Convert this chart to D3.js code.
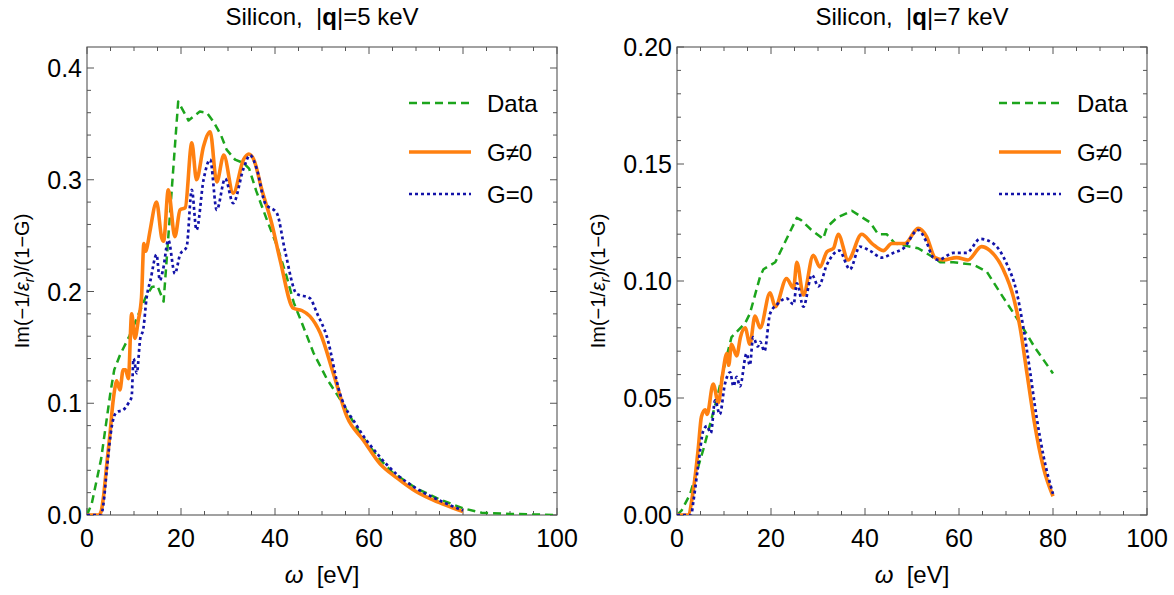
<!DOCTYPE html>
<meta charset="utf-8">
<script src="https://d3js.org/d3.v7.min.js"></script>
<style>
  body { margin: 0; background: #fff; }
  text { font-family: "Liberation Sans", Arial, sans-serif; fill: #000; }
</style>
<div class="canvas"></div>
<script>
// ---- data (omega in eV, loss function value) ----
// panel |q| = 5 keV
const wData5 = [0, 1, 2, 3, 4, 5, 5.8, 7, 9, 11, 12.5, 13.8, 15, 16.3, 19.4, 21.6, 24, 25.5, 26.9, 28.5, 29.7, 31.5, 33.3, 34.5, 36, 38.2, 40.5, 42.5, 44, 45.7, 48.2, 51, 53.8, 56, 58.1, 60, 62.3, 65, 70, 75, 80, 84, 90, 100]
const vData5 = [0, 0.01, 0.03, 0.05, 0.08, 0.11, 0.13, 0.143, 0.16, 0.18, 0.195, 0.204, 0.205, 0.191, 0.370, 0.353, 0.361, 0.36, 0.352, 0.34, 0.327, 0.318, 0.315, 0.31, 0.29, 0.265, 0.24, 0.213, 0.19, 0.172, 0.145, 0.122, 0.104, 0.088, 0.073, 0.062, 0.05, 0.038, 0.024, 0.014, 0.006, 0.002, 0.001, 0]

const wGne5 = [0, 2.5, 3, 3.5, 4.2, 4.9, 5.5, 6.0, 6.3, 7.0, 7.7, 8.2, 8.8, 9.5, 10.2, 10.9, 11.6, 12.1, 12.5, 12.8, 13.4, 14.8, 15.9, 16.3, 17.3, 18.7, 19.8, 20.9, 22.3, 23.3, 24.8, 26.2, 27.6, 29.1, 31.1, 33.3, 34.4, 35.5, 37.2, 39.3, 41.1, 43.9, 45.7, 47.4, 49.6, 52.4, 55.3, 58.8, 62.3, 66, 70, 75, 80]
const vGne5 = [0, 0, 0.003, 0.016, 0.045, 0.073, 0.1, 0.115, 0.12, 0.112, 0.13, 0.13, 0.122, 0.18, 0.158, 0.174, 0.195, 0.243, 0.236, 0.24, 0.254, 0.280, 0.248, 0.245, 0.291, 0.249, 0.273, 0.275, 0.333, 0.300, 0.330, 0.343, 0.298, 0.322, 0.288, 0.318, 0.323, 0.318, 0.291, 0.261, 0.228, 0.185, 0.183, 0.178, 0.163, 0.127, 0.088, 0.067, 0.046, 0.033, 0.021, 0.011, 0.003]

const wG05 = [0, 3, 3.5, 4.2, 5.3, 6.3, 7.7, 8.8, 9.5, 9.9, 10.6, 11.3, 12.0, 12.7, 13.5, 14.8, 15.5, 16.2, 17.3, 18.7, 19.8, 21.2, 22.3, 23.3, 24.8, 26.2, 27.6, 29.4, 31.1, 33.3, 34.7, 36.1, 37.9, 40.4, 42.1, 44.6, 47.4, 49, 51.0, 53.8, 57.4, 62.3, 66, 70, 75, 80]
const vG05 = [0, 0, 0.01, 0.04, 0.08, 0.092, 0.094, 0.10, 0.106, 0.14, 0.127, 0.157, 0.167, 0.195, 0.21, 0.233, 0.210, 0.22, 0.246, 0.216, 0.233, 0.240, 0.291, 0.255, 0.300, 0.318, 0.273, 0.301, 0.279, 0.31, 0.322, 0.31, 0.279, 0.270, 0.237, 0.198, 0.194, 0.18, 0.160, 0.109, 0.08, 0.052, 0.036, 0.024, 0.013, 0.004]

// panel |q| = 7 keV
const wData7 = [0, 1, 2.8, 5.6, 8.4, 10.6, 11.6, 14.5, 15.5, 17.7, 18.4, 20.9, 25.5, 26.4, 28.5, 31.1, 31.9, 34, 37.2, 41.1, 42.8, 44.6, 46.4, 48.8, 51.3, 53.8, 56, 58.8, 63, 65.9, 69.4, 73, 76, 80]
const vData7 = [0, 0.002, 0.009, 0.028, 0.049, 0.068, 0.076, 0.082, 0.086, 0.102, 0.105, 0.108, 0.127, 0.126, 0.122, 0.118, 0.123, 0.127, 0.130, 0.125, 0.120, 0.120, 0.116, 0.115, 0.114, 0.111, 0.108, 0.108, 0.107, 0.104, 0.093, 0.082, 0.072, 0.0605]

const wGne7 = [0, 2.3, 3.5, 4.5, 5.2, 6.0, 6.4, 7.7, 8.8, 9.7, 10.6, 11.0, 11.6, 12.7, 13.5, 14.5, 15.5, 16.6, 17.7, 19.8, 20.9, 23.3, 24.8, 25.5, 26.9, 29.0, 30.4, 31.9, 33.3, 34.3, 36.4, 39.3, 41.5, 43.9, 45.7, 48.5, 51.3, 53.1, 54.9, 56.7, 59.5, 61.9, 64.8, 66.6, 69.4, 71.6, 73.0, 74.5, 76, 78, 80]
const vGne7 = [0, 0, 0.011, 0.028, 0.042, 0.045, 0.043, 0.056, 0.048, 0.06, 0.069, 0.064, 0.073, 0.068, 0.076, 0.080, 0.073, 0.085, 0.080, 0.095, 0.089, 0.101, 0.097, 0.108, 0.094, 0.111, 0.106, 0.1125, 0.114, 0.120, 0.109, 0.120, 0.116, 0.113, 0.116, 0.116, 0.1225, 0.119, 0.110, 0.109, 0.110, 0.109, 0.1147, 0.113, 0.105, 0.093, 0.080, 0.06, 0.04, 0.02, 0.008]

const wG07 = [0, 3, 3.5, 4.5, 5.6, 6.4, 7.2, 8.1, 9.1, 10.2, 11.3, 12.0, 12.7, 13.4, 14.8, 15.5, 16.2, 17.2, 17.7, 18.6, 19.8, 21.3, 23.3, 24.8, 25.5, 26.9, 28.7, 30.1, 31.9, 34.5, 36.8, 38.9, 41, 43.6, 46, 48.2, 51.3, 53, 54.5, 55.6, 58.8, 61.6, 64.5, 67.3, 70.1, 72.3, 73.7, 75, 76.5, 78, 80]
const vG07 = [0, 0, 0.006, 0.021, 0.036, 0.038, 0.035, 0.049, 0.043, 0.056, 0.061, 0.055, 0.059, 0.055, 0.069, 0.064, 0.076, 0.072, 0.074, 0.07, 0.086, 0.090, 0.0926, 0.090, 0.099, 0.089, 0.1026, 0.0977, 0.107, 0.113, 0.105, 0.1147, 0.113, 0.110, 0.112, 0.114, 0.1218, 0.117, 0.110, 0.109, 0.112, 0.112, 0.118, 0.116, 0.1076, 0.095, 0.080, 0.063, 0.042, 0.025, 0.009]

const legendNames = ["Data", "G\u22600", "G=0"]
const xTicks = [0, 20, 40, 60, 80, 100]
const yTicks5 = [0, 0.1, 0.2, 0.3, 0.4]
const yTicks7 = [0, 0.05, 0.10, 0.15, 0.20]

const width = 1174
const height = 595
const plotTop = 47, plotBottom = 515, plotW = 470

const svg = d3.select(".canvas").append("svg")
    .attr("width", width)
    .attr("height", height)
svg.append("rect").attr("width", width).attr("height", height).attr("fill", "#fff")

const styles = [
    {color: "#1ca51c", width: 2.5, dash: "8,5", curve: d3.curveLinear},
    {color: "#ff8010", width: 3.6, dash: null, curve: d3.curveMonotoneX},
    {color: "#1212a8", width: 2.7, dash: "3,3", curve: d3.curveMonotoneX}
]

function drawPanel(left, q, yMax, yTicks, yMinorStep, yFmt, yLabelOff, series) {
    const x = d3.scaleLinear().domain([0, 100]).range([left, left + plotW])
    const y = d3.scaleLinear().domain([0, yMax]).range([plotBottom, plotTop])
    const g = svg.append("g")
    const frame = "#555"

    // clip
    const id = "clip" + q
    svg.append("clipPath").attr("id", id).append("rect")
        .attr("x", left).attr("y", plotTop).attr("width", plotW).attr("height", plotBottom - plotTop)

    // frame
    g.append("rect").attr("x", left).attr("y", plotTop).attr("width", plotW).attr("height", plotBottom - plotTop)
        .attr("fill", "none").attr("stroke", frame).attr("stroke-width", 1.1)

    // ticks on all sides, pointing inward
    const xMinor = d3.range(0, 100.01, 5)
    xMinor.forEach(v => {
        const len = v % 20 === 0 ? 7 : 4
        g.append("line").attr("x1", x(v)).attr("x2", x(v)).attr("y1", plotBottom).attr("y2", plotBottom - len)
            .attr("stroke", frame).attr("stroke-width", 1)
        g.append("line").attr("x1", x(v)).attr("x2", x(v)).attr("y1", plotTop).attr("y2", plotTop + len)
            .attr("stroke", frame).attr("stroke-width", 1)
    })
    const yMinor = d3.range(0, yMax + 1e-9, yMinorStep)
    yMinor.forEach((v, i) => {
        const len = i % 5 === 0 ? 7 : 4
        g.append("line").attr("x1", left).attr("x2", left + len).attr("y1", y(v)).attr("y2", y(v))
            .attr("stroke", frame).attr("stroke-width", 1)
        g.append("line").attr("x1", left + plotW).attr("x2", left + plotW - len).attr("y1", y(v)).attr("y2", y(v))
            .attr("stroke", frame).attr("stroke-width", 1)
    })

    // tick labels
    g.selectAll(".xl").data(xTicks).enter().append("text")
        .attr("x", d => x(d)).attr("y", plotBottom + 32)
        .attr("text-anchor", "middle").style("font-size", "25px")
        .text(d => d)
    g.selectAll(".yl").data(yTicks).enter().append("text")
        .attr("x", left - 5).attr("y", d => y(d) + 9)
        .attr("text-anchor", "end").style("font-size", "25px")
        .text(d => yFmt(d))

    // curves
    const line = d3.line().x(d => x(d[0])).y(d => y(d[1]))
    series.forEach((s, i) => {
        const st = styles[i]
        const pts = s.w.map((w, k) => [w, s.v[k]])
        g.append("path").datum(pts)
            .attr("clip-path", `url(#${id})`)
            .attr("d", line.curve(st.curve))
            .attr("fill", "none")
            .attr("stroke", st.color)
            .attr("stroke-width", st.width)
            .attr("stroke-dasharray", st.dash)
            .attr("stroke-linejoin", "round")
    })

    // legend
    const legY = [103, 152, 194]
    legendNames.forEach((name, i) => {
        const st = styles[i]
        g.append("line").attr("x1", left + 322).attr("x2", left + 384)
            .attr("y1", legY[i]).attr("y2", legY[i])
            .attr("stroke", st.color).attr("stroke-width", st.width)
            .attr("stroke-dasharray", st.dash)
        g.append("text").attr("x", left + 400).attr("y", legY[i] + 9)
            .style("font-size", "24px").text(name)
    })

    // title
    const t = g.append("text").attr("x", left + plotW / 2).attr("y", 25)
        .attr("text-anchor", "middle").style("font-size", "24px")
        .attr("xml:space", "preserve")
    t.append("tspan").text("Silicon,  |")
    t.append("tspan").style("font-weight", "bold").text("q")
    t.append("tspan").text(`|=${q} keV`)

    // x label
    const xl = g.append("text").attr("x", left + plotW / 2).attr("y", 583)
        .attr("text-anchor", "middle").style("font-size", "24px")
        .attr("xml:space", "preserve")
    xl.append("tspan").style("font-style", "italic").text("\u03c9")
    xl.append("tspan").text("  [eV]")

    // y label
    const cy = (plotTop + plotBottom) / 2
    const yl = g.append("text")
        .attr("transform", `translate(${left - yLabelOff},${cy}) rotate(-90)`)
        .attr("text-anchor", "middle").style("font-size", "20px")
    yl.append("tspan").text("Im(\u22121/")
    yl.append("tspan").style("font-style", "italic").text("\u03b5")
    yl.append("tspan").style("font-style", "italic").style("font-size", "14px").attr("dy", 5).text("r")
    yl.append("tspan").attr("dy", -5).text(")/(1\u2212G)")
}

drawPanel(87, 5, 0.4188, yTicks5, 0.02, d3.format(".1f"), 58, [
    {w: wData5, v: vData5}, {w: wGne5, v: vGne5}, {w: wG05, v: vG05}
])
drawPanel(677, 7, 0.2, yTicks7, 0.01, d3.format(".2f"), 72, [
    {w: wData7, v: vData7}, {w: wGne7, v: vGne7}, {w: wG07, v: vG07}
])
</script>
